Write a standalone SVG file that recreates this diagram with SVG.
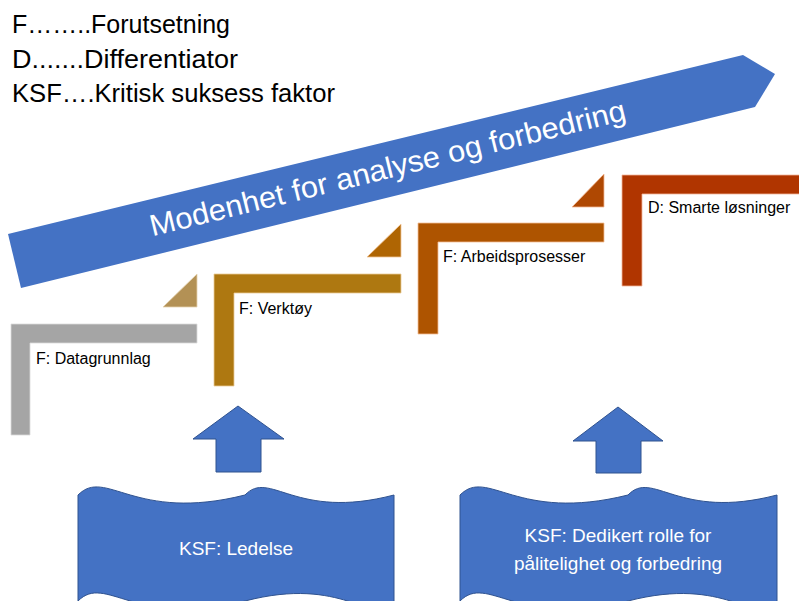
<svg xmlns="http://www.w3.org/2000/svg" width="799" height="601" viewBox="0 0 799 601">
  <style>
    .legend { font-family: "Liberation Sans", Arial, sans-serif; font-size: 25px; fill: #000000; }
    .step-label { font-family: "Liberation Sans", Arial, sans-serif; font-size: 16px; fill: #000000; }
    .ksf-label { font-family: "Liberation Sans", Arial, sans-serif; font-size: 19px; fill: #FFFFFF; text-anchor: middle; }
    .banner-label { font-family: "Liberation Sans", Arial, sans-serif; font-size: 30px; fill: #FFFFFF; text-anchor: middle; }
    .blue { fill: #4472C4; }
    .blue-outline { fill: #4472C4; stroke: #2F528F; stroke-width: 1; }
  </style>

  <rect x="0" y="0" width="799" height="601" fill="#FFFFFF"/>

  <!-- Legend -->
  <g id="legend">
    <text class="legend" x="12" y="33" textLength="218" lengthAdjust="spacingAndGlyphs">F……..Forutsetning</text>
    <text class="legend" x="12" y="68" textLength="226" lengthAdjust="spacingAndGlyphs">D.......Differentiator</text>
    <text class="legend" x="12" y="102" textLength="323" lengthAdjust="spacingAndGlyphs">KSF….Kritisk suksess faktor</text>
  </g>

  <!-- Rising maturity banner -->
  <g id="maturity-banner">
    <polygon class="blue" points="8,234 743,55 775,74 755,107 21,288"/>
    <text class="banner-label" x="390" y="178" transform="rotate(-13.8 390 178)" textLength="489" lengthAdjust="spacingAndGlyphs">Modenhet for analyse og forbedring</text>
  </g>

  <!-- Step 1: data foundation -->
  <g id="step-datagrunnlag">
    <path d="M11,324 H197 V343 H30 V435 H11 Z" fill="#A5A5A5" stroke="#DADADA" stroke-width="0.8"/>
    <polygon points="197,274 163,307 197,307" fill="#B39155" stroke="#E6D3B0" stroke-width="0.8"/>
    <text class="step-label" x="36" y="364">F: Datagrunnlag</text>
  </g>

  <!-- Step 2: tools -->
  <g id="step-verktoy">
    <path d="M214,274 H401 V293 H234 V386 H214 Z" fill="#AE7811" stroke="#EBCB98" stroke-width="0.8"/>
    <polygon points="401,224 367,257 401,257" fill="#AF6503" stroke="#F2C79A" stroke-width="0.8"/>
    <text class="step-label" x="239" y="314">F: Verktøy</text>
  </g>

  <!-- Step 3: work processes -->
  <g id="step-arbeidsprosesser">
    <path d="M418,223 H604 V242 H438 V334 H418 Z" fill="#AE5400" stroke="#F4BE94" stroke-width="0.8"/>
    <polygon points="604,174 572,207 604,207" fill="#AF4802" stroke="#F4B994" stroke-width="0.8"/>
    <text class="step-label" x="443" y="262">F: Arbeidsprosesser</text>
  </g>

  <!-- Step 4: smart solutions -->
  <g id="step-smarte-losninger">
    <path d="M622,175 H800 V194 H642 V286 H622 Z" fill="#B03500" stroke="#F2B59A" stroke-width="0.8"/>
    <text class="step-label" x="648" y="213">D: Smarte løsninger</text>
  </g>

  <!-- Upward support arrows -->
  <g id="connectors">
    <polygon class="blue-outline" points="238,406 284,439 261,439 261,472 216,472 216,439 193,439"/>
    <polygon class="blue-outline" points="618,407 663,441 641,441 641,473 596,473 596,441 573,441"/>
  </g>

  <!-- Critical success factor: leadership -->
  <g id="ksf-ledelse">
    <path class="blue-outline" d="M78,495 C106,467 134,523 245,495 C270,469 295,521 394,495 L394,601 C369,627 345,575 245,601 C134,629 106,573 78,601 Z"/>
    <text class="ksf-label" x="236" y="555">KSF: Ledelse</text>
  </g>

  <!-- Critical success factor: dedicated role -->
  <g id="ksf-dedikert-rolle">
    <path class="blue-outline" d="M460,495 C488,467 516,523 628,495 C653,469 678,521 777,495 L777,601 C752,627 728,575 628,601 C516,629 488,573 460,601 Z"/>
    <text class="ksf-label" x="618" y="542">KSF: Dedikert rolle for</text>
    <text class="ksf-label" x="618" y="570">pålitelighet og forbedring</text>
  </g>
</svg>
